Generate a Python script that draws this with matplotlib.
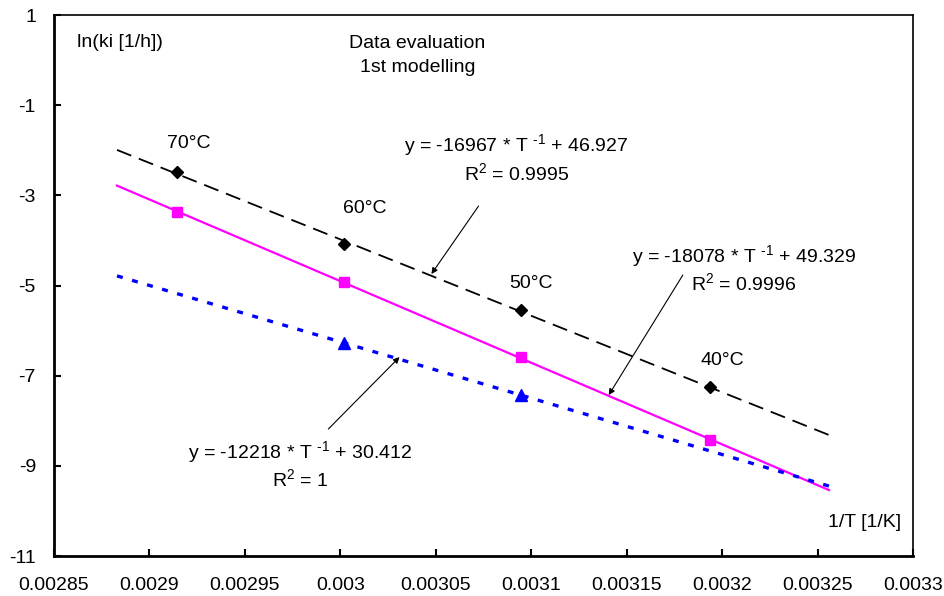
import numpy as np
import matplotlib
matplotlib.use("Agg")
import matplotlib.pyplot as plt

plt.rcParams['font.family'] = ['Liberation Sans', 'DejaVu Sans']
plt.rcParams['mathtext.fontset'] = 'custom'
plt.rcParams['mathtext.rm'] = 'Liberation Sans'
plt.rcParams['mathtext.it'] = 'Liberation Sans:italic'
plt.rcParams['mathtext.bf'] = 'Liberation Sans:bold'

# Data (1/T in 1/K, ln(ki))
temps = ['70°C', '60°C', '50°C', '40°C']
invT = [0.0029142, 0.0030017, 0.0030945, 0.0031934]
ln_k1 = [-2.48, -4.08, -5.55, -7.25]
ln_k2 = [-3.37, -4.92, -6.58, -8.43]
invT3 = [0.0030017, 0.0030945]
ln_k3 = [-6.27, -7.43]

eq1 = ['y = -16967 * T $^{\\text{-1}}$ + 46.927', 'R$^{\\text{2}}$ = 0.9995']
eq2 = ['y = -18078 * T $^{\\text{-1}}$ + 49.329', 'R$^{\\text{2}}$ = 0.9996']
eq3 = ['y = -12218 * T $^{\\text{-1}}$ + 30.412', 'R$^{\\text{2}}$ = 1']

xticks = [0.00285, 0.0029, 0.00295, 0.003, 0.00305, 0.0031, 0.00315, 0.0032, 0.00325, 0.0033]
xticklabels = ['0.00285', '0.0029', '0.00295', '0.003', '0.00305', '0.0031', '0.00315', '0.0032', '0.00325', '0.0033']
yticks = [-11, -9, -7, -5, -3, -1, 1]

fig = plt.figure(figsize=(9.44, 5.96), dpi=100)
ax = fig.add_axes([0.0572, 0.0671, 0.9100, 0.9077])
ax.set_xlim(0.00285, 0.0033)
ax.set_ylim(-11, 1)

xfit = np.array([0.002883, 0.003256])
p1 = np.polyfit(invT, ln_k1, 1)
p2 = np.polyfit(invT, ln_k2, 1)
p3 = np.polyfit(invT3, ln_k3, 1)

ax.plot(xfit, np.polyval(p1, xfit), color='black', lw=1.3, dashes=(8.5, 4.5), zorder=2)
ax.plot(xfit, np.polyval(p2, xfit), color='#FF00FF', lw=1.6, zorder=2)
ax.plot(xfit, np.polyval(p3, xfit), color='#0000FF', lw=2.4, dashes=(1.8, 2.9), zorder=2)

ax.plot(invT, ln_k1, linestyle='none', marker='D', ms=6, color='black', zorder=3)
ax.plot(invT, ln_k2, linestyle='none', marker='s', ms=7, color='#FF00FF', zorder=3)
ax.plot(invT3, ln_k3, linestyle='none', marker='^', ms=8, color='#0000FF', zorder=3)

fs = 14
ax.text(0.0028621, 0.401, 'ln(ki [1/h])', fontsize=fs, ha='left', va='center')
ax.text(0.0030404, 0.379, 'Data evaluation', fontsize=fs, ha='center', va='center')
ax.text(0.0030404, -0.154, '1st modelling', fontsize=fs, ha='center', va='center')

label_pos = [(0.0029208, -1.839), (0.0030126, -3.281), (0.0031, -4.945), (0.0032, -6.653)]
for t, (lx, ly) in zip(temps, label_pos):
    ax.text(lx, ly, t, fontsize=fs, ha='center', va='center')

ax.text(0.0030923, -1.884, eq1[0], fontsize=fs, ha='center', va='center')
ax.text(0.0030923, -2.505, eq1[1], fontsize=fs, ha='center', va='center')
ax.text(0.0032114, -4.346, eq2[0], fontsize=fs, ha='center', va='center')
ax.text(0.0032114, -4.945, eq2[1], fontsize=fs, ha='center', va='center')
ax.text(0.0029790, -8.694, eq3[0], fontsize=fs, ha='center', va='center')
ax.text(0.0029790, -9.293, eq3[1], fontsize=fs, ha='center', va='center')

ax.text(0.0032937, -10.247, '1/T [1/K]', fontsize=fs, ha='right', va='center')

arrow = dict(arrowstyle='-|>', color='black', lw=0.8, mutation_scale=9, shrinkA=0, shrinkB=0)
ax.annotate('', xy=(0.0030477, -4.745), xytext=(0.0030724, -3.237), arrowprops=arrow)
ax.annotate('', xy=(0.0031406, -7.430), xytext=(0.0031794, -4.768), arrowprops=arrow)
ax.annotate('', xy=(0.0030310, -6.587), xytext=(0.0029937, -8.184), arrowprops=arrow)

ax.set_xticks(xticks)
ax.set_xticklabels(xticklabels)
ax.set_yticks(yticks)
ax.set_yticklabels([str(v) for v in yticks])
ax.tick_params(axis='both', direction='in', length=5, width=1.5, labelsize=fs)
ax.tick_params(axis='x', pad=15)
ax.tick_params(axis='y', pad=13)
ax.spines['left'].set_linewidth(2)
ax.spines['bottom'].set_linewidth(2)
ax.spines['top'].set_linewidth(1.2)
ax.spines['right'].set_linewidth(1.2)

fig.savefig('out.png', dpi=100)
